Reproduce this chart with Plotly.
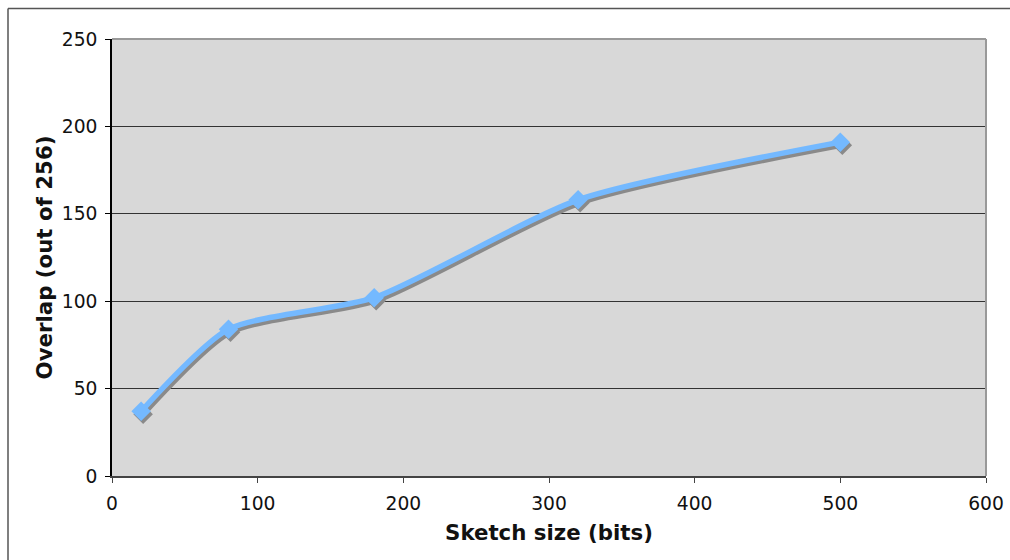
import plotly.graph_objects as go

sketch_size = [20, 80, 180, 320, 500]
overlap = [37, 84, 102, 158, 191]
x_ticks = [0, 100, 200, 300, 400, 500, 600]
y_ticks = [0, 50, 100, 150, 200, 250]

W, H = 1010, 560
L, R, T, B = 112, 24, 39, 84
pw, ph = W - L - R, H - T - B
xr = [0, 600]
yr = [0, 250]
ux = (xr[1] - xr[0]) / pw
uy = (yr[1] - yr[0]) / ph
sdx, sdy = 2, 3  # shadow offset in px

FONT = "DejaVu Sans, Verdana, sans-serif"
SMOOTH = 0.65

fig = go.Figure()
# shadow: same data on the (hidden) base axes, whose ranges are shifted a few px
fig.add_trace(go.Scatter(
    x=sketch_size, y=overlap, mode="lines+markers",
    line=dict(color="#8a8a8a", width=5.5, shape="spline", smoothing=SMOOTH),
    marker=dict(symbol="diamond", size=15, color="#8a8a8a"),
    hoverinfo="skip", showlegend=False))
# main series on the visible overlay axes (drawn on top)
fig.add_trace(go.Scatter(
    x=sketch_size, y=overlap, mode="lines+markers",
    line=dict(color="#74b9ff", width=5.5, shape="spline", smoothing=SMOOTH),
    marker=dict(symbol="diamond", size=15, color="#74b9ff"),
    xaxis="x2", yaxis="y2", showlegend=False))

fig.update_layout(
    width=W, height=H, autosize=False,
    margin=dict(l=L, r=R, t=T, b=B, pad=0, autoexpand=False),
    paper_bgcolor="white", plot_bgcolor="#d8d8d8",
    font=dict(family=FONT, size=18.7, color="#111"),
    xaxis=dict(range=[xr[0] - sdx * ux, xr[1] - sdx * ux], visible=False,
               showgrid=False, zeroline=False, automargin=False),
    yaxis=dict(range=[yr[0] + sdy * uy, yr[1] + sdy * uy], visible=False,
               showgrid=False, zeroline=False, automargin=False),
    xaxis2=dict(range=xr, tickvals=x_ticks, ticks="outside", ticklen=5,
                tickcolor="#444", linecolor="#444", linewidth=1.5, showline=True,
                showgrid=False, zeroline=False, overlaying="x", side="bottom",
                automargin=False, ticklabelstandoff=5,
                title=dict(text="<b>Sketch size (bits)</b>", font=dict(size=21.3), standoff=12),
                tickfont=dict(size=18.7)),
    yaxis2=dict(range=yr, tickvals=y_ticks, ticks="outside", ticklen=5,
                tickcolor="#000", linecolor="#000", linewidth=1.5, showline=True,
                showgrid=True, gridcolor="#333", gridwidth=1, zeroline=False,
                overlaying="y", side="left",
                automargin=False, ticklabelstandoff=4,
                title=dict(text="<b>Overlap (out of 256)</b>", font=dict(size=21.3), standoff=3),
                tickfont=dict(size=18.7)),
    shapes=[
        # plot area top and right borders
        dict(type="line", xref="paper", yref="paper", x0=0, x1=1, y0=1, y1=1,
             line=dict(color="#999", width=2), layer="above"),
        dict(type="line", xref="paper", yref="paper", x0=1, x1=1, y0=0, y1=1,
             line=dict(color="#999", width=2), layer="above"),
        # outer chart border (top and left edges)
        dict(type="line", xref="paper", yref="paper",
             x0=(8 - L) / pw, x1=(W - L) / pw, y0=(H - B - 8.5) / ph, y1=(H - B - 8.5) / ph,
             line=dict(color="#555", width=1.5)),
        dict(type="line", xref="paper", yref="paper",
             x0=(8 - L) / pw, x1=(8 - L) / pw, y0=-B / ph, y1=(H - B - 8.5) / ph,
             line=dict(color="#555", width=1.5)),
    ],
)
fig.layout.xaxis2.anchor = "y2"
fig.layout.yaxis2.anchor = "x2"

fig.write_html(
    "out.html",
    post_script="document.documentElement.style.overflow='hidden';"
                "document.body.style.overflow='hidden';document.body.style.margin='0';",
)
